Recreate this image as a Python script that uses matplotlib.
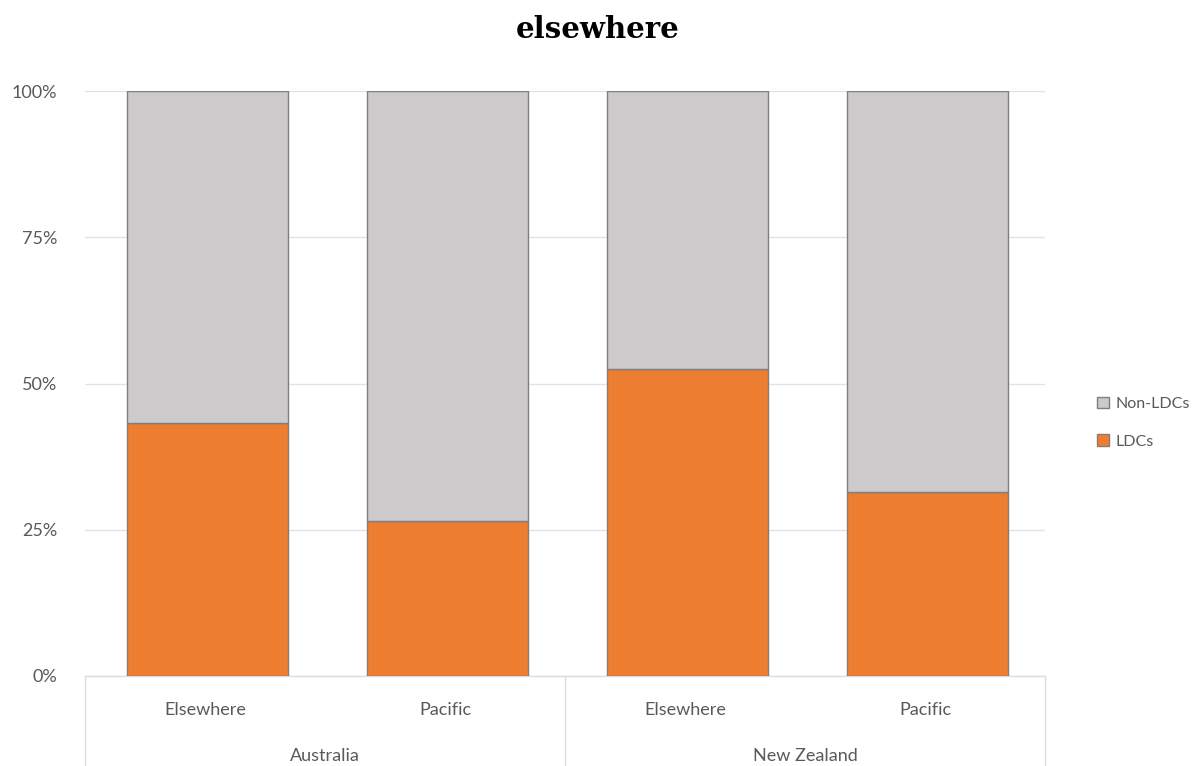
import matplotlib.pyplot as plt
import matplotlib.transforms as mtransforms
import matplotlib.ticker as mtick
import numpy as np

regions = ['Elsewhere', 'Pacific', 'Elsewhere', 'Pacific']
countries = ['Australia', 'New Zealand']
ldcs = [43.2, 26.5, 52.5, 31.4]
non_ldcs = [100 - v for v in ldcs]

plt.rcParams['font.family'] = ['Lato', 'DejaVu Sans']

fig = plt.figure(figsize=(11.95, 7.66), dpi=100)
ax = fig.add_axes([85/1195, 1 - 676/766, (1045 - 85)/1195, (676 - 91)/766])

x = np.arange(len(regions))
w = 0.67
ax.bar(x + 0.01, ldcs, w, color='#ED7D31', edgecolor='#8a7a70', linewidth=1, label='LDCs', zorder=3)
ax.bar(x + 0.01, non_ldcs, w, bottom=ldcs, color='#CCCACB', edgecolor='#7f7f7f', linewidth=1,
       label='Non-LDCs', zorder=3)

ax.set_xlim(-0.5, 3.5)
ax.set_ylim(0, 100)
ax.set_yticks([0, 25, 50, 75, 100])
ax.yaxis.set_major_formatter(mtick.StrMethodFormatter('{x:.0f}%'))
ax.tick_params(axis='y', length=0, pad=20, labelsize=13, labelcolor='#595959')
ax.set_xticks([])
for s in ax.spines.values():
    s.set_visible(False)
ax.grid(axis='y', color='#e3e3e3', linewidth=1, zorder=0)

# category box under the axis
lc = '#dcdcdc'
ax.plot([0, 1], [0, 0], transform=ax.transAxes, color=lc, lw=1, clip_on=False)
for xv in [0, 0.5, 1]:
    ax.plot([xv, xv], [0, -0.16], transform=ax.transAxes, color=lc, lw=1, clip_on=False)

trans = mtransforms.blended_transform_factory(ax.transData, ax.transAxes)
for i, r in enumerate(regions):
    ax.text(i, -0.058, r, transform=trans, ha='center', va='center',
            fontsize=13, color='#595959')
for j, c in enumerate(countries):
    ax.text(j * 2 + 0.5, -0.136, c, transform=trans, ha='center', va='center',
            fontsize=13, color='#595959')

h, l = ax.get_legend_handles_labels()
ax.legend(h[::-1], l[::-1], loc='center left', bbox_to_anchor=(1.043, 0.433), frameon=False,
          fontsize=11.5, labelcolor='#595959', handlelength=0.75, handleheight=0.75,
          handletextpad=0.35, labelspacing=1.45, borderaxespad=0.3)

fig.text(0.5, 1 - 29/766, 'elsewhere', ha='center', va='center', fontsize=21,
         fontweight='bold', family='DejaVu Serif')

plt.savefig('out.png', dpi=100)
